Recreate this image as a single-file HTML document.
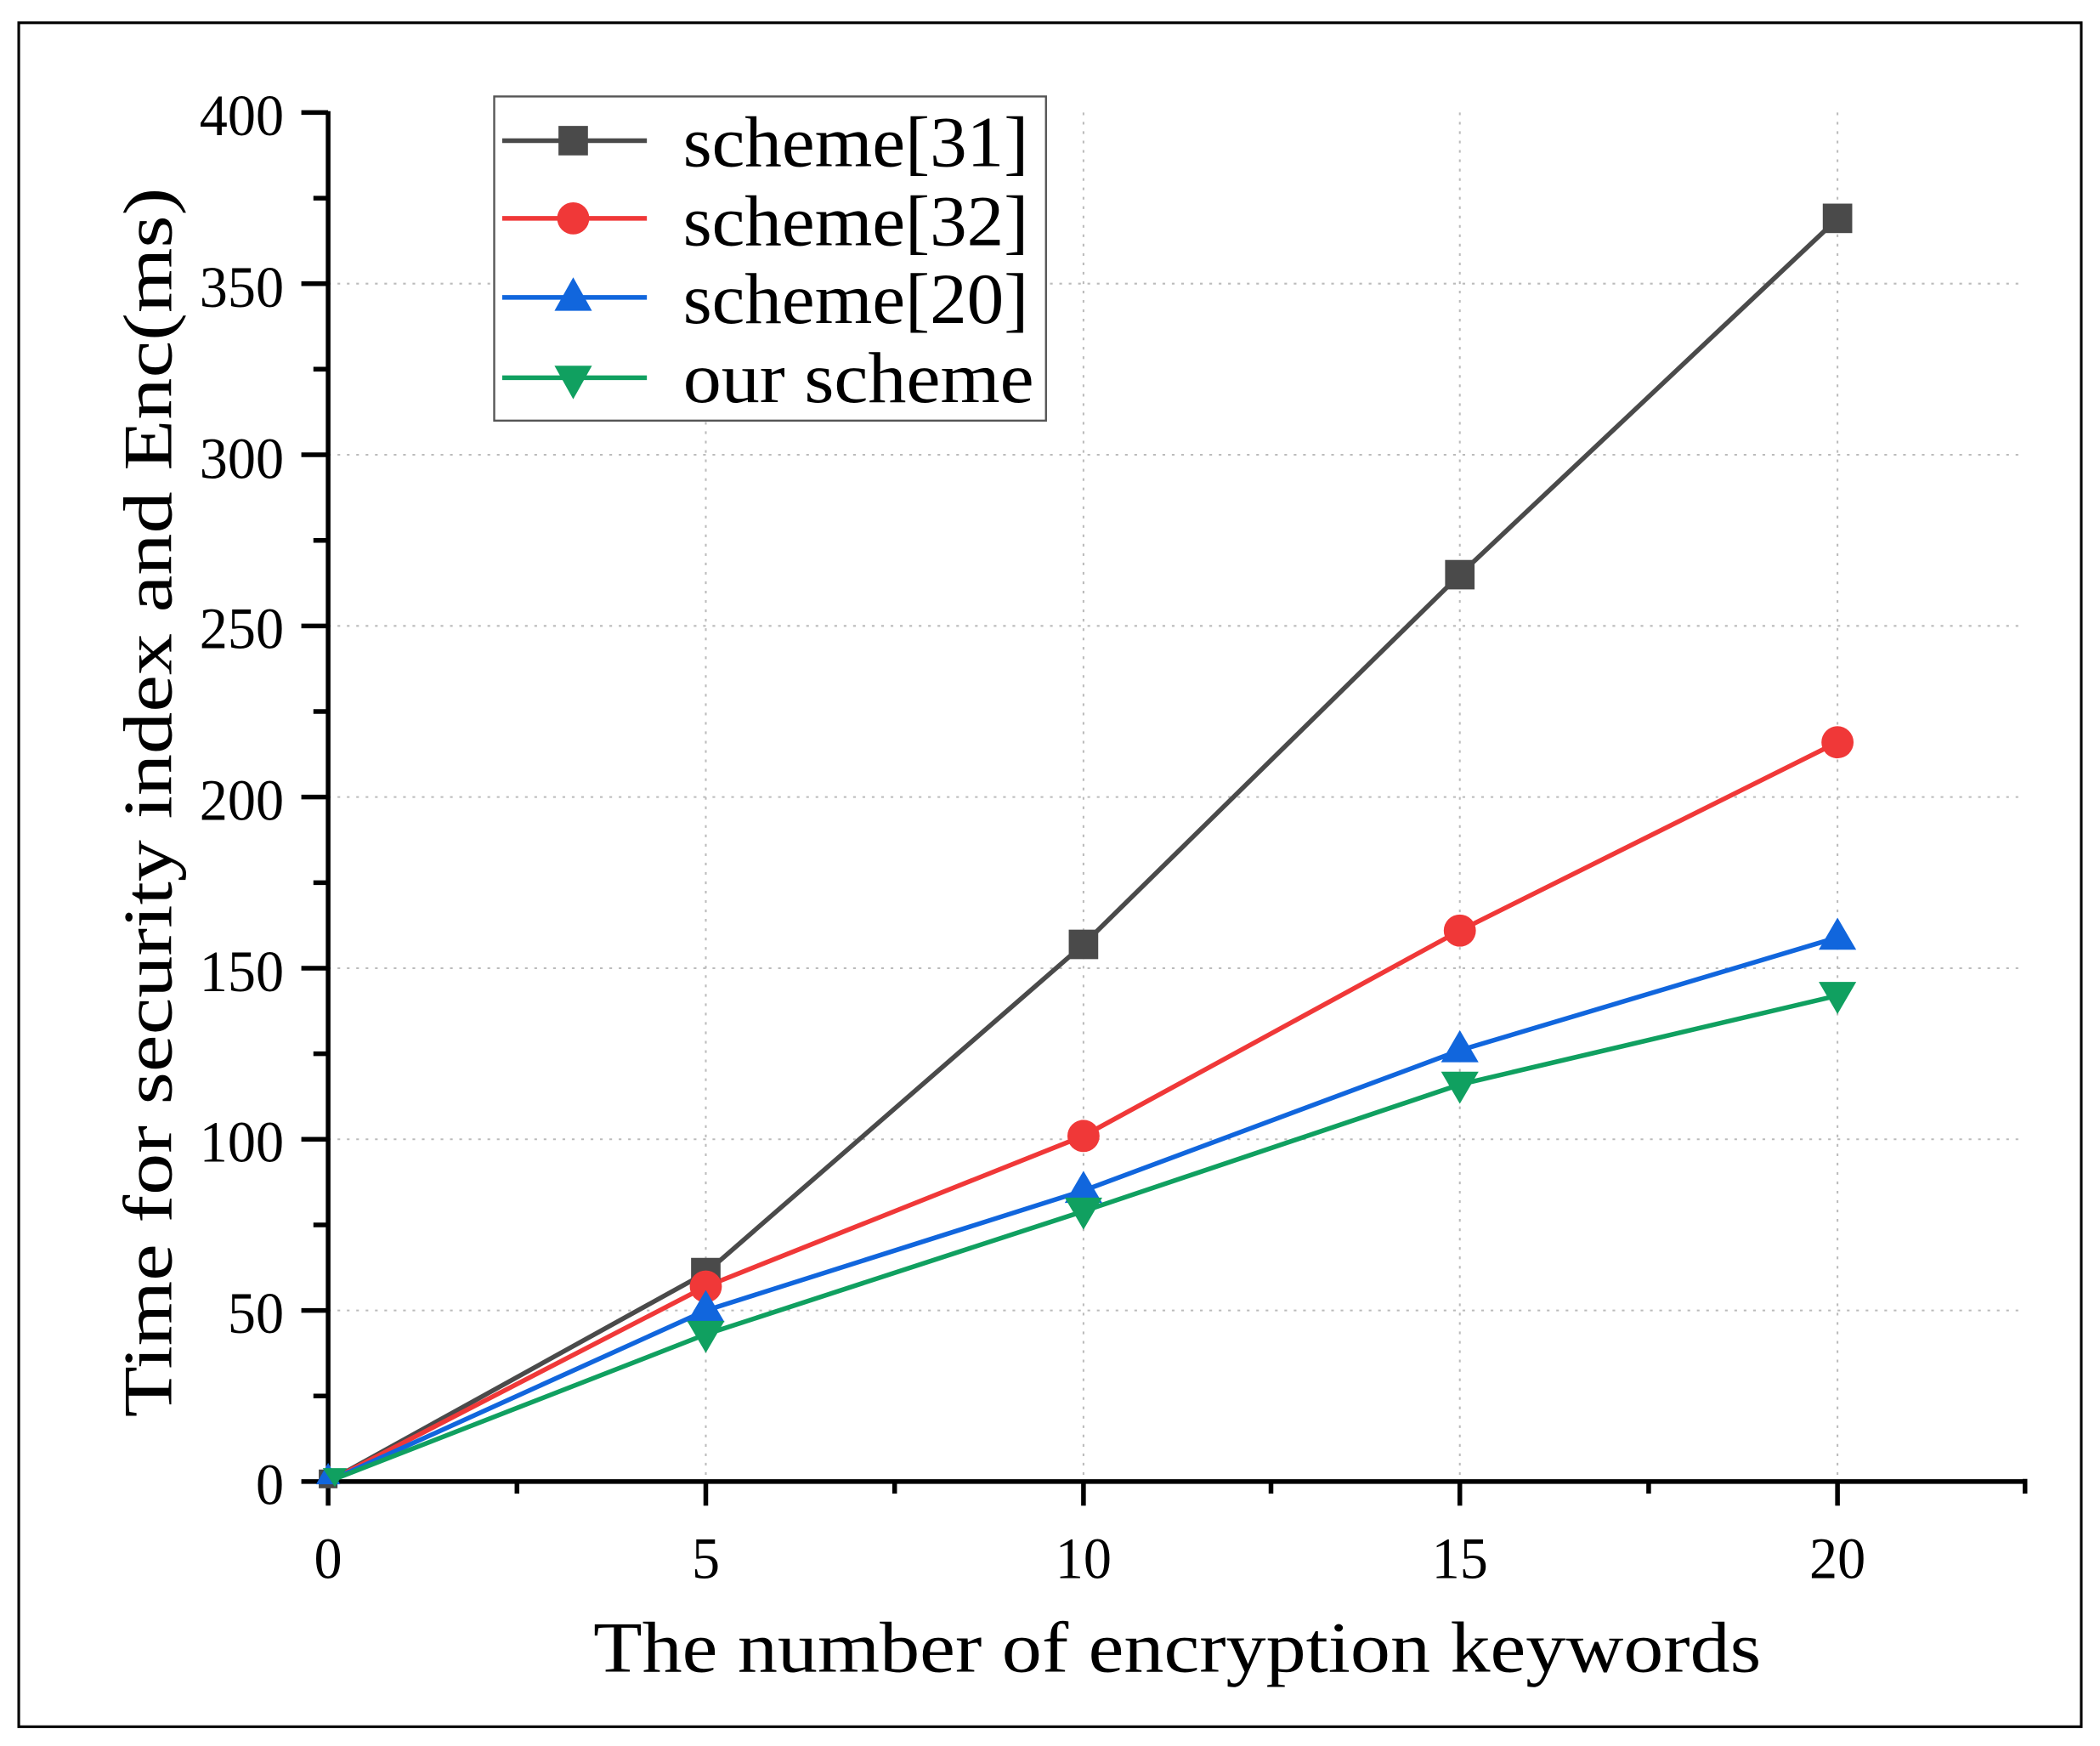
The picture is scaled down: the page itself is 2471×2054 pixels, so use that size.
<!DOCTYPE html>
<html><head><meta charset="utf-8"><style>html,body{margin:0;padding:0;background:#fff;}svg{display:block}</style></head>
<body>
<svg width="2471" height="2054" viewBox="0 0 1568 1303.4" preserveAspectRatio="none" xmlns="http://www.w3.org/2000/svg">
<rect x="0" y="0" width="1568" height="1304" fill="#fff"/>
<rect x="14" y="17" width="1540" height="1272" fill="none" stroke="#000" stroke-width="2"/>
<g stroke="#bbb" stroke-width="1.3" stroke-dasharray="2,5">
<line x1="245" x2="1512" y1="978.25" y2="978.25"/><line x1="245" x2="1512" y1="850.5" y2="850.5"/>
<line x1="245" x2="1512" y1="722.75" y2="722.75"/><line x1="245" x2="1512" y1="595" y2="595"/>
<line x1="245" x2="1512" y1="467.25" y2="467.25"/><line x1="245" x2="1512" y1="339.5" y2="339.5"/>
<line x1="245" x2="1512" y1="211.75" y2="211.75"/>
<line x1="527" x2="527" y1="84" y2="1106"/><line x1="809" x2="809" y1="84" y2="1106"/>
<line x1="1090" x2="1090" y1="84" y2="1106"/><line x1="1372" x2="1372" y1="84" y2="1106"/>
</g>
<g stroke="#000" stroke-width="3.5" fill="none">
<line x1="245" y1="83" x2="245" y2="1124"/><line x1="225" y1="1106" x2="1513" y2="1106"/>
<line x1="225" y1="84" x2="245" y2="84"/><line x1="225" y1="211.75" x2="245" y2="211.75"/><line x1="225" y1="339.5" x2="245" y2="339.5"/><line x1="225" y1="467.25" x2="245" y2="467.25"/><line x1="225" y1="595" x2="245" y2="595"/><line x1="225" y1="722.75" x2="245" y2="722.75"/><line x1="225" y1="850.5" x2="245" y2="850.5"/><line x1="225" y1="978.25" x2="245" y2="978.25"/>
<line x1="234" y1="147.9" x2="245" y2="147.9"/><line x1="234" y1="275.6" x2="245" y2="275.6"/><line x1="234" y1="403.4" x2="245" y2="403.4"/><line x1="234" y1="531.1" x2="245" y2="531.1"/><line x1="234" y1="658.9" x2="245" y2="658.9"/><line x1="234" y1="786.6" x2="245" y2="786.6"/><line x1="234" y1="914.4" x2="245" y2="914.4"/><line x1="234" y1="1042.1" x2="245" y2="1042.1"/>
<line x1="527" y1="1106" x2="527" y2="1124"/><line x1="809" y1="1106" x2="809" y2="1124"/><line x1="1090" y1="1106" x2="1090" y2="1124"/><line x1="1372" y1="1106" x2="1372" y2="1124"/>
<line x1="386" y1="1106" x2="386" y2="1115"/><line x1="668" y1="1106" x2="668" y2="1115"/><line x1="949" y1="1106" x2="949" y2="1115"/><line x1="1231" y1="1106" x2="1231" y2="1115"/><line x1="1512" y1="1104" x2="1512" y2="1115"/>
</g>
<g font-family="'Liberation Serif',serif" font-size="44" fill="#000" text-anchor="end" lengthAdjust="spacingAndGlyphs">
<text x="212" y="101" textLength="63" lengthAdjust="spacingAndGlyphs">400</text><text x="212" y="229" textLength="63" lengthAdjust="spacingAndGlyphs">350</text><text x="212" y="357" textLength="63" lengthAdjust="spacingAndGlyphs">300</text><text x="212" y="484" textLength="63" lengthAdjust="spacingAndGlyphs">250</text><text x="212" y="612" textLength="63" lengthAdjust="spacingAndGlyphs">200</text><text x="212" y="740" textLength="63" lengthAdjust="spacingAndGlyphs">150</text><text x="212" y="867" textLength="63" lengthAdjust="spacingAndGlyphs">100</text><text x="212" y="995" textLength="42" lengthAdjust="spacingAndGlyphs">50</text><text x="212" y="1123" textLength="21" lengthAdjust="spacingAndGlyphs">0</text>
</g>
<g font-family="'Liberation Serif',serif" font-size="44" fill="#000" text-anchor="middle">
<text x="245" y="1178" textLength="21" lengthAdjust="spacingAndGlyphs">0</text><text x="527" y="1178" textLength="21" lengthAdjust="spacingAndGlyphs">5</text><text x="809" y="1178" textLength="42" lengthAdjust="spacingAndGlyphs">10</text><text x="1090" y="1178" textLength="42" lengthAdjust="spacingAndGlyphs">15</text><text x="1372" y="1178" textLength="42" lengthAdjust="spacingAndGlyphs">20</text>
</g>
<text x="443" y="1248" font-family="'Liberation Serif',serif" font-size="54" textLength="872" lengthAdjust="spacingAndGlyphs">The number of encryption keywords</text>
<text transform="translate(128,1058) rotate(-90)" font-family="'Liberation Serif',serif" font-size="52" textLength="918" lengthAdjust="spacingAndGlyphs">Time for security index and Enc(ms)</text>
<g fill="none" stroke-width="3.5">
<polyline stroke="#4a4a4a" points="245,1106 527,950.2 809,705 1090,429 1372,163.3"/>
<polyline stroke="#f03838" points="245,1106 527,960.4 809,848 1090,694.7 1372,554.1"/>
<polyline stroke="#1166dd" points="245,1106 527,978.3 809,888.8 1090,784.1 1372,699.8"/>
<polyline stroke="#10a060" points="245,1106 527,996.1 809,904.2 1090,809.6 1372,743.2"/>
</g>
<g fill="#4a4a4a"><rect x="516" y="939" width="22" height="22"/><rect x="798" y="694" width="22" height="22"/><rect x="1079" y="418" width="22" height="22"/><rect x="1361" y="152" width="22" height="22"/><rect x="238" y="1097" width="14" height="14"/></g>
<g fill="#f03838"><circle cx="527" cy="960.4" r="12"/><circle cx="809" cy="848" r="12"/><circle cx="1090" cy="694.7" r="12"/><circle cx="1372" cy="554.1" r="12"/></g>
<g fill="#1166dd"><path d="M527,963 l14,24 h-28z"/><path d="M809,874 l14,24 h-28z"/><path d="M1090,769 l14,24 h-28z"/><path d="M1372,685 l14,24 h-28z"/><path d="M245,1092 l9,16 h-18z"/></g>
<g fill="#10a060"><path d="M527,1010 l14,-24 h-28z"/><path d="M809,918 l14,-24 h-28z"/><path d="M1090,824 l14,-24 h-28z"/><path d="M1372,757 l14,-24 h-28z"/><path d="M250,1110 l9,-14 h-18z"/></g>
<rect x="369" y="72" width="412" height="242" fill="#fff" stroke="#555" stroke-width="1.5"/>
<g stroke-width="3.5">
<line x1="375" x2="483" y1="105" y2="105" stroke="#4a4a4a"/><line x1="375" x2="483" y1="163" y2="163" stroke="#f03838"/>
<line x1="375" x2="483" y1="222" y2="222" stroke="#1166dd"/><line x1="375" x2="483" y1="282" y2="282" stroke="#10a060"/>
</g>
<rect x="417" y="94" width="22" height="22" fill="#4a4a4a"/>
<circle cx="428" cy="163" r="12" fill="#f03838"/>
<path d="M428,207 l14,25 h-28z" fill="#1166dd"/>
<path d="M428,298 l14,-25 h-28z" fill="#10a060"/>
<g font-family="'Liberation Serif',serif" font-size="54" fill="#000">
<text x="510" y="124" textLength="258" lengthAdjust="spacingAndGlyphs">scheme[31]</text>
<text x="510" y="183" textLength="258" lengthAdjust="spacingAndGlyphs">scheme[32]</text>
<text x="510" y="241" textLength="258" lengthAdjust="spacingAndGlyphs">scheme[20]</text>
<text x="510" y="300" textLength="262" lengthAdjust="spacingAndGlyphs">our scheme</text>
</g>
</svg>
</body></html>
